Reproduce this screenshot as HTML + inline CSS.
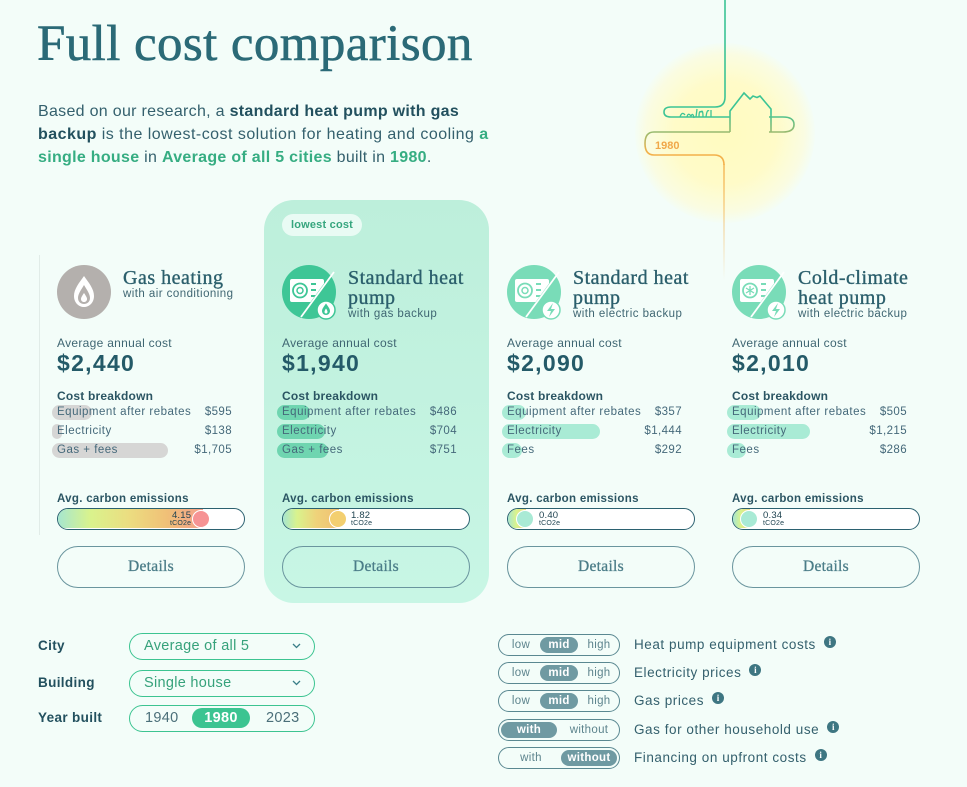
<!DOCTYPE html>
<html><head><meta charset="utf-8">
<style>
*{margin:0;padding:0;box-sizing:border-box}
body{width:967px;height:787px;background:#f3fdf9;position:relative;overflow:hidden;font-family:"Liberation Sans",sans-serif;color:#2e5866}
.a{position:absolute;white-space:nowrap}
h1{position:absolute;left:37px;top:14px;font-family:"Liberation Serif",serif;font-weight:normal;font-size:51px;line-height:60px;color:#2b6a77;letter-spacing:0.4px;white-space:nowrap;-webkit-text-stroke:0.6px #2b6a77}
.intro{position:absolute;left:38px;top:100px;font-size:16px;line-height:23px;letter-spacing:0.3px;color:#34606d;white-space:nowrap}
.intro b{color:#22505e}
.intro .g{color:#36ad82;font-weight:bold}
.hl{position:absolute;left:264px;top:200px;width:225px;height:403px;border-radius:30px;background:linear-gradient(#bdefdb,#c8f6e5)}
.pill{position:absolute;left:282px;top:214px;width:80px;height:22px;border-radius:11px;background:#e9fbf4;color:#36a67e;font-weight:bold;font-size:11px;line-height:22px;text-align:center;letter-spacing:0.2px}
.ttl{font-family:"Liberation Serif",serif;font-size:20px;line-height:20px;color:#2b5f6c;letter-spacing:0.5px;-webkit-text-stroke:0.35px #2b5f6c}
.sub{font-size:11.5px;line-height:12px;letter-spacing:0.45px;color:#3f6672}
.avg{font-size:12px;line-height:14px;letter-spacing:0.3px;color:#3f6672}
.big{font-size:23px;line-height:26px;font-weight:bold;letter-spacing:1.3px;color:#245a68}
.cb{font-size:12px;line-height:14px;font-weight:bold;letter-spacing:0.2px;color:#2b5563}
.lab{font-size:11.5px;line-height:15px;letter-spacing:0.5px;color:#45697a}
.val{font-size:11.5px;line-height:15px;letter-spacing:0.4px;color:#45697a;text-align:right}
.bar{position:absolute;height:15px;border-radius:7.5px}
.ce{font-size:11.5px;line-height:14px;font-weight:bold;letter-spacing:0.3px;color:#2b5563}
.cbar{position:absolute;width:188px;height:22px;border:1.5px solid #2b6170;border-radius:11px;background:#fff;overflow:hidden}
.cfill{position:absolute;left:0;top:0;height:19px}
.dot{position:absolute;width:18px;height:18px;border-radius:50%;border:1px solid #fff;top:0.5px}
.cv{position:absolute;font-size:9.5px;line-height:9px;color:#1f4350;letter-spacing:0.2px}
.cv small{display:block;font-size:7px;line-height:8px}
.det{position:absolute;width:188px;height:42px;border:1px solid #6a959e;border-radius:21px;text-align:center;line-height:40px;font-family:"Liberation Serif",serif;font-size:15.5px;letter-spacing:0.3px;color:#4b7d88;-webkit-text-stroke:0.3px #4b7d88}
.clab{font-size:13.5px;line-height:16px;font-weight:bold;letter-spacing:0.35px;color:#22505e}
.dd{position:absolute;left:129px;width:186px;height:27px;border:1.5px solid #3cc491;border-radius:14px;font-size:14.5px;line-height:24px;letter-spacing:0.3px;color:#36a27b;padding-left:14px}
.dd svg{position:absolute;right:13px;top:9px}
.tg{position:absolute;left:498px;width:122px;height:22px;border:1px solid #5a8891;border-radius:11px;font-size:11.5px;color:#5d848d;letter-spacing:0.3px}
.tg span{position:absolute;top:0;line-height:20px;text-align:center}
.tg .on{background:#6f9aa2;color:#fff;font-weight:bold;border-radius:8px;top:2px;height:16px;line-height:16px}
.rl{font-size:13.5px;line-height:16px;letter-spacing:0.55px;color:#34606d}
.info{display:inline-block;width:12px;height:12px;border-radius:50%;background:#3e7682;color:#fff;font-size:9px;line-height:12px;text-align:center;font-weight:bold;font-family:"Liberation Serif",serif;margin-left:8px;position:relative;top:-4px;letter-spacing:0}
</style></head><body>

<div class="a" style="left:635px;top:43px;width:180px;height:180px;border-radius:50%;background:radial-gradient(circle,#fffbc0 0%,#fffbc8 40%,rgba(255,252,210,0.6) 62%,rgba(243,253,249,0) 72%)"></div>
<svg class="a" style="left:0;top:0" width="967" height="300" viewBox="0 0 967 300">
<defs>
<linearGradient id="pg" gradientUnits="userSpaceOnUse" x1="0" y1="112" x2="0" y2="152">
<stop offset="0" stop-color="#3cc495"/><stop offset="1" stop-color="#f3b04a"/></linearGradient>
<linearGradient id="fg" gradientUnits="userSpaceOnUse" x1="0" y1="160" x2="0" y2="280">
<stop offset="0" stop-color="#f3b04a"/><stop offset="1" stop-color="#f3b04a" stop-opacity="0"/></linearGradient>
</defs>
<path d="M725,0 V97 Q725,107 715,107 H671 Q664,107 664,112 Q664,117 671,117 H730" fill="none" stroke="#3cc495" stroke-width="1.6"/>
<path d="M680,117 q2,-6 5,-2 M687,117 q1,-5 4,-1 q2,-4 3,2 M696,117 l1,-8 M699,117 q0,-7 2,-5 q2,-3 2,5 M706,117 q1,-8 3,-6 M711,117 l0,-7" fill="none" stroke="#3cc495" stroke-width="1.3"/>
<path d="M730,132 V111 L744,93 L750,99 L753,96 L757,97.5 L760,96 L771,109 V132 M769,117 H783 Q794,117 794,124.5 Q794,132 783,132 H769" fill="none" stroke="url(#pg)" stroke-width="1.6"/>
<path d="M730,132 H654 Q645,132 645,143.5 Q645,155 654,155 H714 Q724,155 724,165" fill="none" stroke="url(#pg)" stroke-width="1.6"/>
<path d="M724,164 V285" fill="none" stroke="url(#fg)" stroke-width="1.4"/>
<text x="655" y="149" font-family="Liberation Sans" font-weight="bold" font-size="11" fill="#f0a84a">1980</text>
</svg>

<h1>Full cost comparison</h1>
<div class="intro">Based on our research, a <b>standard heat pump with gas</b><br><span style="letter-spacing:0.47px"><b>backup</b> is the lowest-cost solution for heating and cooling <span class="g">a</span></span><br><span class="g">single house</span> in <span class="g">Average of all 5 cities</span> built in <span class="g">1980</span>.</div>

<div class="a" style="left:39px;top:255px;width:1px;height:280px;background:#e1ece8"></div>
<div class="hl"></div>
<div class="pill">lowest cost</div>

<svg class="a" style="left:0;top:260px" width="967" height="70" viewBox="0 260 967 70">
<defs>
<clipPath id="cl2"><polygon points="270,260 336,260 336,267 299,318 270,318"/></clipPath>
<clipPath id="cl3"><polygon points="495,260 561,260 561,267 524,318 495,318"/></clipPath>
<clipPath id="cl4"><polygon points="720,260 786,260 786,267 749,318 720,318"/></clipPath>
</defs>
<circle cx="84" cy="292" r="27" fill="#b4b0ad"/>
<path d="M84,276 C79,283 74,289 74,296 C74,303 79,307 84,307 C89,307 94,303 94,296 C94,289 89,283 84,276 Z" fill="#fff"/>
<path d="M84,285 C81,290 78,294 78,298 C78,302 81,304 84,304 C87,304 90,302 90,298 C90,294 87,290 84,285 Z" fill="#b4b0ad"/>
<path d="M84,293 C82,296 81,297.5 81,299 C81,301 82.5,302 84,302 C85.5,302 87,301 87,299 C87,297.5 86,296 84,293 Z" fill="#fff"/>

<g>
<circle cx="309" cy="292" r="27" fill="#3ec696"/>
<g clip-path="url(#cl2)"><rect x="290" y="279" width="34" height="23" rx="2" fill="#fff"/>
<circle cx="300" cy="290.5" r="7" fill="none" stroke="#3ec696" stroke-width="1.8"/><circle cx="300" cy="290.5" r="3" fill="none" stroke="#3ec696" stroke-width="1.5"/>
<path d="M311,284 h5 M311,290 h5 M311,296 h5" stroke="#3ec696" stroke-width="2"/></g>
<line x1="301" y1="317" x2="334" y2="272" stroke="#fff" stroke-width="1.8"/>
<circle cx="326" cy="310" r="9" fill="#fff" stroke="#3ec696" stroke-width="1.5"/>
<path d="M326,303.5 C323.5,307 322,309 322,311 C322,313.5 324,315 326,315 C328,315 330,313.5 330,311 C330,309 328.5,307 326,303.5 Z" fill="#3ec696"/>
<path d="M326,308.5 C325,310 324.5,311 324.5,312 C324.5,313 325.2,313.5 326,313.5 C326.8,313.5 327.5,313 327.5,312 C327.5,311 327,310 326,308.5 Z" fill="#fff"/>
</g>

<g>
<circle cx="534" cy="292" r="27" fill="#79dcb8"/>
<g clip-path="url(#cl3)"><rect x="515" y="279" width="34" height="23" rx="2" fill="#fff"/>
<circle cx="525" cy="290.5" r="7" fill="none" stroke="#79dcb8" stroke-width="1.8"/><circle cx="525" cy="290.5" r="3" fill="none" stroke="#79dcb8" stroke-width="1.5"/>
<path d="M536,284 h5 M536,290 h5 M536,296 h5" stroke="#79dcb8" stroke-width="2"/></g>
<line x1="526" y1="317" x2="559" y2="272" stroke="#fff" stroke-width="1.8"/>
<circle cx="551" cy="310" r="9" fill="#fff" stroke="#79dcb8" stroke-width="1.5"/>
<path d="M553,303 L547,311 H551 L549,317 L555,309 H551 Z" fill="#79dcb8"/>
</g>

<g>
<circle cx="759" cy="292" r="27" fill="#79dcb8"/>
<g clip-path="url(#cl4)"><rect x="740" y="279" width="34" height="23" rx="2" fill="#fff"/>
<circle cx="750" cy="290.5" r="7" fill="none" stroke="#79dcb8" stroke-width="1.8"/>
<path d="M750,286 v9 M746,288 l8,5 M746,293 l8,-5" stroke="#79dcb8" stroke-width="1.3"/>
<path d="M761,284 h5 M761,290 h5 M761,296 h5" stroke="#79dcb8" stroke-width="2"/></g>
<line x1="751" y1="317" x2="784" y2="272" stroke="#fff" stroke-width="1.8"/>
<circle cx="776" cy="310" r="9" fill="#fff" stroke="#79dcb8" stroke-width="1.5"/>
<path d="M778,303 L772,311 H776 L774,317 L780,309 H776 Z" fill="#79dcb8"/>
</g>
</svg>

<!-- Card 1 -->
<div class="a ttl" style="left:123px;top:268px">Gas heating</div>
<div class="a sub" style="left:123px;top:288px">with air conditioning</div>
<div class="a avg" style="left:57px;top:336px">Average annual cost</div>
<div class="a big" style="left:57px;top:350px">$2,440</div>
<div class="a cb" style="left:57px;top:389px">Cost breakdown</div>
<div class="bar" style="left:52px;top:404.5px;width:40px;background:#d6d6d5"></div>
<div class="bar" style="left:52px;top:423.5px;width:10px;background:#d6d6d5"></div>
<div class="bar" style="left:52px;top:442.5px;width:116px;background:#d6d6d5"></div>
<div class="a lab" style="left:57px;top:404.5px">Equipment after rebates</div>
<div class="a lab" style="left:57px;top:423.5px">Electricity</div>
<div class="a lab" style="left:57px;top:442.5px">Gas + fees</div>
<div class="a val" style="left:162px;width:70px;top:404.5px">$595</div>
<div class="a val" style="left:162px;width:70px;top:423.5px">$138</div>
<div class="a val" style="left:162px;width:70px;top:442.5px">$1,705</div>
<div class="a ce" style="left:57px;top:492px">Avg. carbon emissions</div>
<div class="cbar" style="left:57px;top:508px">
<div class="cfill" style="width:145px;background:linear-gradient(90deg,#a6e6cf 0%,#d9f38d 22%,#ecdc80 50%,#f0c077 75%,#f4a08c 100%)"></div>
<div class="dot" style="left:134px;background:#f69394"></div>
<div class="cv" style="left:112px;top:2px;text-align:right">4.15<small>tCO2e</small></div>
</div>
<div class="det" style="left:57px;top:546px">Details</div>

<!-- Card 2 -->
<div class="a ttl" style="left:348px;top:268px">Standard heat<br>pump</div>
<div class="a sub" style="left:348px;top:308px">with gas backup</div>
<div class="a avg" style="left:282px;top:336px">Average annual cost</div>
<div class="a big" style="left:282px;top:350px">$1,940</div>
<div class="a cb" style="left:282px;top:389px">Cost breakdown</div>
<div class="bar" style="left:277px;top:404.5px;width:33px;background:#6fd5b0"></div>
<div class="bar" style="left:277px;top:423.5px;width:48px;background:#6fd5b0"></div>
<div class="bar" style="left:277px;top:442.5px;width:51px;background:#6fd5b0"></div>
<div class="a lab" style="left:282px;top:404.5px">Equipment after rebates</div>
<div class="a lab" style="left:282px;top:423.5px">Electricity</div>
<div class="a lab" style="left:282px;top:442.5px">Gas + fees</div>
<div class="a val" style="left:387px;width:70px;top:404.5px">$486</div>
<div class="a val" style="left:387px;width:70px;top:423.5px">$704</div>
<div class="a val" style="left:387px;width:70px;top:442.5px">$751</div>
<div class="a ce" style="left:282px;top:492px">Avg. carbon emissions</div>
<div class="cbar" style="left:282px;top:508px">
<div class="cfill" style="width:56px;background:linear-gradient(90deg,#a6e6cf 0%,#d9f38d 25%,#efd27a 60%,#f0c072 100%)"></div>
<div class="dot" style="left:46px;background:#f3cf70"></div>
<div class="cv" style="left:68px;top:2px">1.82<small>tCO2e</small></div>
</div>
<div class="det" style="left:282px;top:546px">Details</div>

<!-- Card 3 -->
<div class="a ttl" style="left:573px;top:268px">Standard heat<br>pump</div>
<div class="a sub" style="left:573px;top:308px">with electric backup</div>
<div class="a avg" style="left:507px;top:336px">Average annual cost</div>
<div class="a big" style="left:507px;top:350px">$2,090</div>
<div class="a cb" style="left:507px;top:389px">Cost breakdown</div>
<div class="bar" style="left:502px;top:404.5px;width:24px;background:#a9ebd5"></div>
<div class="bar" style="left:502px;top:423.5px;width:98px;background:#a9ebd5"></div>
<div class="bar" style="left:502px;top:442.5px;width:20px;background:#a9ebd5"></div>
<div class="a lab" style="left:507px;top:404.5px">Equipment after rebates</div>
<div class="a lab" style="left:507px;top:423.5px">Electricity</div>
<div class="a lab" style="left:507px;top:442.5px">Fees</div>
<div class="a val" style="left:612px;width:70px;top:404.5px">$357</div>
<div class="a val" style="left:612px;width:70px;top:423.5px">$1,444</div>
<div class="a val" style="left:612px;width:70px;top:442.5px">$292</div>
<div class="a ce" style="left:507px;top:492px">Avg. carbon emissions</div>
<div class="cbar" style="left:507px;top:508px">
<div class="cfill" style="width:18px;background:linear-gradient(90deg,#a6e6cf 0%,#d9f38d 45%,#ecd980 100%)"></div>
<div class="dot" style="left:8px;background:#a9ead5"></div>
<div class="cv" style="left:31px;top:2px">0.40<small>tCO2e</small></div>
</div>
<div class="det" style="left:507px;top:546px">Details</div>

<!-- Card 4 -->
<div class="a ttl" style="left:798px;top:268px">Cold-climate<br>heat pump</div>
<div class="a sub" style="left:798px;top:308px">with electric backup</div>
<div class="a avg" style="left:732px;top:336px">Average annual cost</div>
<div class="a big" style="left:732px;top:350px">$2,010</div>
<div class="a cb" style="left:732px;top:389px">Cost breakdown</div>
<div class="bar" style="left:727px;top:404.5px;width:34px;background:#a9ebd5"></div>
<div class="bar" style="left:727px;top:423.5px;width:83px;background:#a9ebd5"></div>
<div class="bar" style="left:727px;top:442.5px;width:19px;background:#a9ebd5"></div>
<div class="a lab" style="left:732px;top:404.5px">Equipment after rebates</div>
<div class="a lab" style="left:732px;top:423.5px">Electricity</div>
<div class="a lab" style="left:732px;top:442.5px">Fees</div>
<div class="a val" style="left:837px;width:70px;top:404.5px">$505</div>
<div class="a val" style="left:837px;width:70px;top:423.5px">$1,215</div>
<div class="a val" style="left:837px;width:70px;top:442.5px">$286</div>
<div class="a ce" style="left:732px;top:492px">Avg. carbon emissions</div>
<div class="cbar" style="left:732px;top:508px">
<div class="cfill" style="width:17px;background:linear-gradient(90deg,#a6e6cf 0%,#d9f38d 45%,#ecd980 100%)"></div>
<div class="dot" style="left:7px;background:#a9ead5"></div>
<div class="cv" style="left:30px;top:2px">0.34<small>tCO2e</small></div>
</div>
<div class="det" style="left:732px;top:546px">Details</div>

<!-- Controls left -->
<div class="a clab" style="left:38px;top:638px">City</div>
<div class="a clab" style="left:38px;top:675px">Building</div>
<div class="a clab" style="left:38px;top:710px">Year built</div>
<div class="dd" style="top:632.5px">Average of all 5<svg width="9" height="6" viewBox="0 0 9 6"><polyline points="1,1 4.5,4.5 8,1" fill="none" stroke="#3a7f88" stroke-width="1.3"/></svg></div>
<div class="dd" style="top:669.5px">Single house<svg width="9" height="6" viewBox="0 0 9 6"><polyline points="1,1 4.5,4.5 8,1" fill="none" stroke="#3a7f88" stroke-width="1.3"/></svg></div>
<div class="a" style="left:129px;top:705px;width:186px;height:27px;border:1.5px solid #3cc491;border-radius:14px;font-size:14.5px;color:#4b6f79;letter-spacing:0.3px">
<span class="a" style="left:15px;top:0;line-height:24px">1940</span>
<span class="a" style="left:62px;top:2px;width:58px;height:20px;border-radius:10px;background:#3cc491;color:#fff;font-weight:bold;text-align:center;line-height:20px">1980</span>
<span class="a" style="left:136px;top:0;line-height:24px">2023</span>
</div>

<!-- Controls right -->
<div class="tg" style="top:634px"><span style="left:8px;width:28px">low</span><span class="on" style="left:41px;width:38px">mid</span><span style="left:85px;width:30px">high</span></div>
<div class="tg" style="top:662px"><span style="left:8px;width:28px">low</span><span class="on" style="left:41px;width:38px">mid</span><span style="left:85px;width:30px">high</span></div>
<div class="tg" style="top:690px"><span style="left:8px;width:28px">low</span><span class="on" style="left:41px;width:38px">mid</span><span style="left:85px;width:30px">high</span></div>
<div class="tg" style="top:718.5px"><span class="on" style="left:2px;width:56px">with</span><span style="left:64px;width:52px">without</span></div>
<div class="tg" style="top:747px"><span style="left:8px;width:48px">with</span><span class="on" style="left:62px;width:56px">without</span></div>

<div class="a rl" style="left:634px;top:637px">Heat pump equipment costs<span class="info">i</span></div>
<div class="a rl" style="left:634px;top:665px">Electricity prices<span class="info">i</span></div>
<div class="a rl" style="left:634px;top:693px">Gas prices<span class="info">i</span></div>
<div class="a rl" style="left:634px;top:721.5px">Gas for other household use<span class="info">i</span></div>
<div class="a rl" style="left:634px;top:750px">Financing on upfront costs<span class="info">i</span></div>

</body></html>
